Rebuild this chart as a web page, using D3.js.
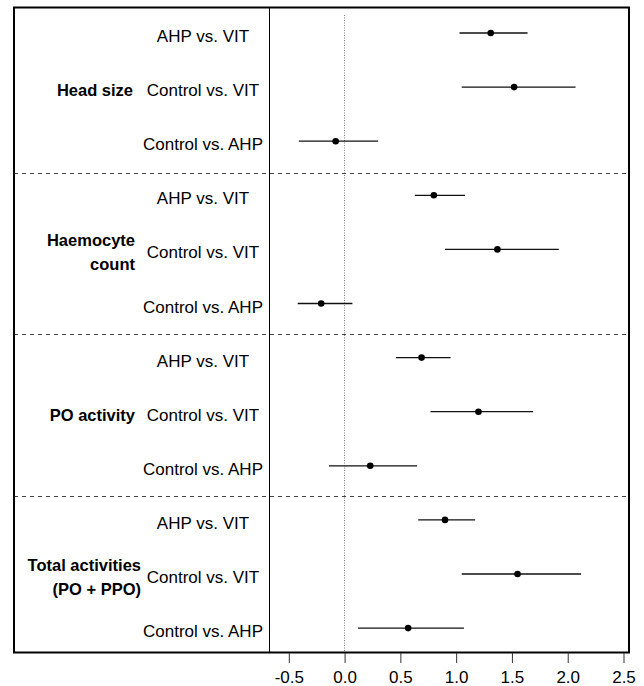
<!DOCTYPE html>
<html>
<head>
<meta charset="utf-8">
<script src="https://cdn.jsdelivr.net/npm/d3@7"></script>
<style>
  body { margin: 0; background: #fff; }
  text { font-family: "Liberation Sans", Arial, sans-serif; }
</style>
</head>
<body>
<svg id="chart" width="644" height="686"></svg>
<script>
// comparisons, top to bottom
var groups = ["Head size", "Haemocyte count", "PO activity", "Total activities (PO + PPO)"];
var comparisons = ["AHP vs. VIT", "Control vs. VIT", "Control vs. AHP"];

// effect estimates and interval limits, one per row (4 groups x 3 comparisons)
var estimate = [1.31, 1.52, -0.08,  0.80, 1.37, -0.21,  0.69, 1.20, 0.23,  0.90, 1.55, 0.57];
var lower    = [1.03, 1.05, -0.41,  0.63, 0.90, -0.42,  0.46, 0.77, -0.14, 0.66, 1.05, 0.12];
var upper    = [1.64, 2.07, 0.30,   1.08, 1.92, 0.07,   0.95, 1.69, 0.65,  1.17, 2.12, 1.07];

var xTicks = [-0.5, 0.0, 0.5, 1.0, 1.5, 2.0, 2.5];

var svg = d3.select("#chart");

var x = d3.scaleLinear().domain([-0.5, 2.5]).range([288.8, 623.5]);
var y = d3.scaleLinear().domain([0, 11]).range([33, 628.1]);

var boxLeft = 14, divider = 269.5, boxRight = 629, boxTop = 7.5, boxBottom = 652.5;

var rows = [];
groups.forEach(function(g, gi) {
  comparisons.forEach(function(c, ci) {
    var i = gi * 3 + ci;
    rows.push({ group: g, label: c, i: i, est: estimate[i], lo: lower[i], hi: upper[i] });
  });
});

// zero reference line
svg.append("line")
   .attr("x1", x(0)).attr("x2", x(0))
   .attr("y1", 15).attr("y2", boxBottom)
   .attr("stroke", "#777")
   .attr("stroke-width", 1)
   .attr("stroke-dasharray", "1,1.5");

// separators between groups
var seps = [2.58, 5.57, 8.55];
svg.append("g").selectAll("line")
   .data(seps)
   .enter().append("line")
   .attr("x1", boxLeft).attr("x2", boxRight)
   .attr("y1", function(d) { return Math.round(y(d)) + 0.5; })
   .attr("y2", function(d) { return Math.round(y(d)) + 0.5; })
   .attr("stroke", "#444")
   .attr("stroke-width", 1)
   .attr("stroke-dasharray", "4,4");

// intervals
svg.append("g").selectAll("line")
   .data(rows)
   .enter().append("line")
   .attr("x1", function(d) { return x(d.lo); })
   .attr("x2", function(d) { return x(d.hi); })
   .attr("y1", function(d) { return y(d.i); })
   .attr("y2", function(d) { return y(d.i); })
   .attr("stroke", "#111")
   .attr("stroke-width", 1.3);

svg.append("g").selectAll("circle")
   .data(rows)
   .enter().append("circle")
   .attr("cx", function(d) { return x(d.est); })
   .attr("cy", function(d) { return y(d.i); })
   .attr("r", 3.3)
   .attr("fill", "#000");

// comparison labels
svg.append("g").selectAll("text")
   .data(rows)
   .enter().append("text")
   .attr("x", 203)
   .attr("y", function(d) { return y(d.i) + 9; })
   .attr("text-anchor", "middle")
   .style("font-size", "17px")
   .text(function(d) { return d.label; });

// group labels (some on two lines)
var groupLines = [["Head size"], ["Haemocyte", "count"], ["PO activity"], ["Total activities", "(PO + PPO)"]];
var groupX = [133, 135, 135, 141];
groupLines.forEach(function(lines, gi) {
  var cy = y(gi * 3 + 1);
  lines.forEach(function(t, li) {
    var off = (li - (lines.length - 1) / 2) * 24;
    svg.append("text")
       .attr("x", groupX[gi])
       .attr("y", cy + off + 9)
       .attr("text-anchor", "end")
       .style("font-size", "16.5px")
       .style("font-weight", "bold")
       .text(t);
  });
});

// frames
svg.append("rect")
   .attr("x", boxLeft).attr("y", boxTop)
   .attr("width", boxRight - boxLeft).attr("height", boxBottom - boxTop)
   .attr("fill", "none")
   .attr("stroke", "#000")
   .attr("stroke-width", 2);

svg.append("line")
   .attr("x1", divider).attr("x2", divider)
   .attr("y1", boxTop).attr("y2", boxBottom)
   .attr("stroke", "#000")
   .attr("stroke-width", 1);

// x axis
var axis = svg.append("g")
   .attr("transform", "translate(0," + (boxBottom + 0.5) + ")")
   .call(d3.axisBottom(x).tickValues(xTicks).tickSize(10).tickPadding(8)
           .tickFormat(function(d) { return d3.format(".1f")(d).replace("\u2212", "-"); }));
axis.select(".domain").remove();
axis.selectAll(".tick line").attr("stroke", "#333");
axis.selectAll("text")
    .style("font-size", "17px")
    .style("font-family", "'Liberation Sans', Arial, sans-serif")
    .attr("fill", "#000");
</script>
</body>
</html>
